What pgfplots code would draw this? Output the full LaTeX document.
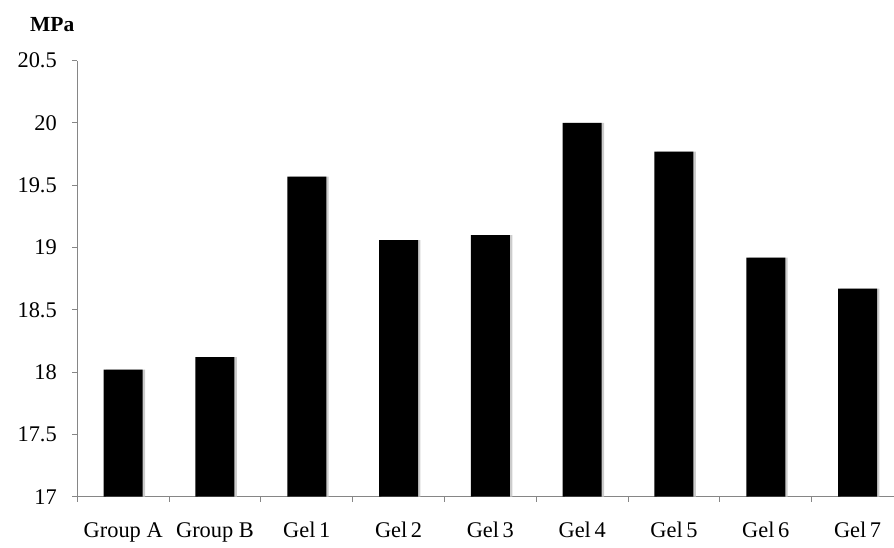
\documentclass[border=0pt]{standalone}
\usepackage{fontspec}
\setmainfont{Liberation Serif}
\usepackage{pgfplots}
\pgfplotsset{compat=1.18}
\usetikzlibrary{calc}
\definecolor{axgray}{HTML}{868686}
\begin{document}
\fontsize{22.4}{26}\selectfont
\begin{tikzpicture}
\begin{axis}[
  scale only axis, width=816.7pt, height=436pt,
  xmin=-0.5, xmax=8.397, ymin=17, ymax=20.5,
  axis x line=bottom, axis y line=left,
  axis line style={-, draw=axgray, line width=1pt},
  /pgf/number format/assume math mode=true,
  ytick={17,17.5,18,18.5,19,19.5,20,20.5},
  yticklabels={17,17.5,18,18.5,19,19.5,20,20.5},
  xtick={0,1,2,3,4,5,6,7,8},
  xticklabels={Group A,Group B,Gel\hspace{0.16em}1,Gel\hspace{0.16em}2,Gel\hspace{0.16em}3,Gel\hspace{0.16em}4,Gel\hspace{0.16em}5,Gel\hspace{0.16em}6,Gel\hspace{0.16em}7},
  minor xtick={-0.5,0.5,1.5,2.5,3.5,4.5,5.5,6.5,7.5},
  tick align=outside,
  major tick length=5pt, minor tick length=5pt,
  major x tick style={draw=none},
  major y tick style={draw=axgray, line width=1pt},
  minor x tick style={draw=axgray, line width=1pt},
  yticklabel style={inner sep=0pt, anchor=east, xshift=-15.3pt},
  xticklabel style={inner sep=0pt, anchor=base, yshift=-35.3pt},
]
\addplot[ybar, bar width=39pt, bar shift=2.4pt, fill=black!20, draw=none] coordinates {
(0,18.02) (1,18.12) (2,19.57) (3,19.06) (4,19.10) (5,20.00) (6,19.77) (7,18.92) (8,18.67)};
\addplot[ybar, bar width=39pt, bar shift=0pt, fill=black, draw=none] coordinates {
(0,18.02) (1,18.12) (2,19.57) (3,19.06) (4,19.10) (5,20.00) (6,19.77) (7,18.92) (8,18.67)};
\coordinate (sw) at (rel axis cs:0,0);
\coordinate (ne) at (rel axis cs:1,1);
\coordinate (nw) at (rel axis cs:0,1);
\end{axis}
\node[anchor=base west, inner sep=0pt, font=\fontsize{21.5}{25}\selectfont\bfseries] at ($(nw)+(-47.3pt,29pt)$) {MPa};
\pgfresetboundingbox
\path[use as bounding box] ($(sw)+(-77.3pt,-50.3pt)$) rectangle ($(ne)+(0pt,60.7pt)$);
\end{tikzpicture}
\end{document}
